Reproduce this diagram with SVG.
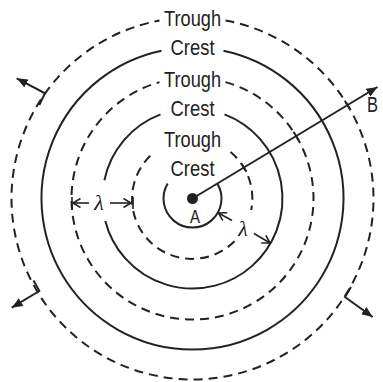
<svg xmlns="http://www.w3.org/2000/svg" width="383" height="382" viewBox="0 0 383 382">
<defs>
<marker id="fill" markerUnits="userSpaceOnUse" markerWidth="12" markerHeight="10" refX="11" refY="4.5" orient="auto">
<path d="M0,0 L11,4.5 L0,9 z" fill="#222"/>
</marker>
<marker id="open" markerUnits="userSpaceOnUse" markerWidth="12" markerHeight="12" refX="8" refY="5" orient="auto">
<path d="M0.5,0.5 L8,5 L0.5,9.5" fill="none" stroke="#222" stroke-width="1.6"/>
</marker>
</defs>
<style>
.solid{fill:none;stroke:#222;stroke-width:2}
.dash{fill:none;stroke:#222;stroke-width:2;stroke-dasharray:9 6}
.ln{fill:none;stroke:#222;stroke-width:2}
.thin{fill:none;stroke:#222;stroke-width:1.6}
.lbl{font-family:"Liberation Sans Narrow","Arial Narrow","Liberation Sans",sans-serif;font-size:22px;fill:#222;text-anchor:middle}
.lam{font-family:"Liberation Serif","DejaVu Serif",serif;font-size:22px;font-style:italic;fill:#222;text-anchor:middle}
</style>
<rect width="383" height="382" fill="#fff"/>
<g id="waves">
<path id="c1" class="solid" d="M217.3 183.5 A29 29 0 1 1 167.7 183.5"/>
<path id="t1" class="dash" d="M230.5 152.1 A60 60 0 0 1 251.2 210.0 M234.5 241.3 A60 60 0 1 1 154.5 152.1"/>
<path id="c2" class="solid" d="M224.5 114.4 A90 90 0 1 1 105.3 220.9 M104.4 180.25 A90 90 0 0 1 160.5 114.4"/>
<path id="t2" class="dash" d="M225.5 82.1 A121 121 0 1 1 159.5 82.1"/>
<path id="c3" class="solid" d="M223.5 50.7 A151 151 0 1 1 161.5 50.7"/>
<path id="t3" class="dash" d="M225.5 20.5 A181 181 0 1 1 159.5 20.5"/>
</g>
<g id="labels">
<text class="lbl" x="192.5" y="26" textLength="57" lengthAdjust="spacingAndGlyphs">Trough</text>
<text class="lbl" x="192.5" y="55" textLength="44" lengthAdjust="spacingAndGlyphs">Crest</text>
<text class="lbl" x="192.5" y="87" textLength="57" lengthAdjust="spacingAndGlyphs">Trough</text>
<text class="lbl" x="192.5" y="116" textLength="44" lengthAdjust="spacingAndGlyphs">Crest</text>
<text class="lbl" x="192.5" y="147" textLength="57" lengthAdjust="spacingAndGlyphs">Trough</text>
<text class="lbl" x="192.5" y="176" textLength="44" lengthAdjust="spacingAndGlyphs">Crest</text>
</g>
<g id="nodeA">
<circle cx="192.5" cy="198.5" r="5.5" fill="#222"/>
<text class="lbl" x="195" y="223" style="font-size:18px" textLength="10" lengthAdjust="spacingAndGlyphs">A</text>
</g>
<g id="nodeB">
<text class="lbl" x="367" y="112" style="text-anchor:start" textLength="11" lengthAdjust="spacingAndGlyphs">B</text>
</g>
<g id="connectors">
<path class="ln" d="M192.5 198.5 L377.5 87" marker-end="url(#fill)"/>
<path class="ln" d="M241.3 163.2 L246.5 171.8 M293.5 131.7 L298.7 140.3 M344.8 100.7 L350 109.3"/>
<path class="ln" d="M39.3 105 L45 93.3 L16.7 78.3" marker-end="url(#fill)"/>
<path class="ln" d="M33.5 280.5 L39.3 291 L11.7 307.7" marker-end="url(#fill)"/>
<path class="ln" d="M351 287 L345 297 L372.7 317" marker-end="url(#fill)"/>
<path class="thin" d="M72 197 L72 209 M133 197 L133 209"/>
<path class="thin" d="M89 203 L73 203" marker-end="url(#open)"/>
<path class="thin" d="M110 203 L131 203" marker-end="url(#open)"/>
<text class="lam" x="99" y="210">λ</text>
<path class="thin" d="M232 220.5 L218.5 213" marker-end="url(#open)"/>
<path class="thin" d="M254 233.5 L270 243" marker-end="url(#open)"/>
<text class="lam" x="243" y="236">λ</text>
</g>
</svg>
